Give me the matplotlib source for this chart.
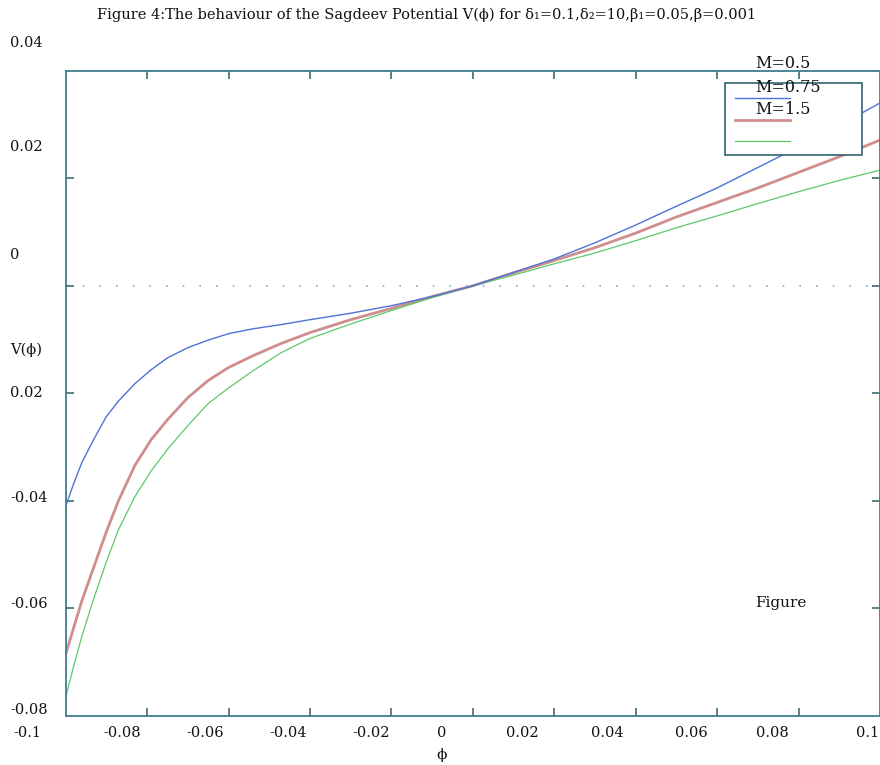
import matplotlib
matplotlib.use("Agg")
import matplotlib.pyplot as plt
from matplotlib.lines import Line2D
from matplotlib.patches import Rectangle

# ---------------- data ----------------
phi = [-0.100, -0.098, -0.096, -0.093, -0.090, -0.087, -0.083, -0.079, -0.075,
       -0.070, -0.065, -0.060, -0.054, -0.047, -0.040, -0.030, -0.020, -0.010,
       0.000, 0.010, 0.020, 0.030, 0.040, 0.050, 0.060, 0.070, 0.080, 0.090, 0.100]
V_M05 = [-0.0410, -0.0367, -0.0328, -0.0284, -0.0243, -0.0214, -0.0182, -0.0156,
         -0.0134, -0.0115, -0.0101, -0.0089, -0.0080, -0.0072, -0.0063, -0.0051,
         -0.0037, -0.0020, 0.0000, 0.0025, 0.0050, 0.0080, 0.0113, 0.0148, 0.0182,
         0.0220, 0.0258, 0.0298, 0.0340]
V_M075 = [-0.0685, -0.0635, -0.0585, -0.0521, -0.0457, -0.0399, -0.0334, -0.0286,
          -0.0249, -0.0208, -0.0176, -0.0152, -0.0130, -0.0107, -0.0087, -0.0063,
          -0.0042, -0.0020, 0.0000, 0.0024, 0.0047, 0.0071, 0.0098, 0.0128, 0.0155,
          0.0182, 0.0211, 0.0240, 0.0271]
V_M15 = [-0.0765, -0.0706, -0.0651, -0.0579, -0.0513, -0.0453, -0.0392, -0.0344,
         -0.0304, -0.0260, -0.0219, -0.0190, -0.0158, -0.0124, -0.0098, -0.0071,
         -0.0046, -0.0022, 0.0000, 0.0020, 0.0041, 0.0061, 0.0084, 0.0108, 0.0130,
         0.0153, 0.0175, 0.0196, 0.0215]
legend_labels = ["M=0.5", "M=0.75", "M=1.5"]
xtick_vals = [-0.08, -0.06, -0.04, -0.02, 0.0, 0.02, 0.04, 0.06, 0.08]
ytick_vals = [-0.06, -0.04, -0.02, 0.0, 0.02]
xtick_labels = ["-0.1", "-0.08", "-0.06", "-0.04", "-0.02", "0", "0.02", "0.04",
                "0.06", "0.08", "0.1"]
ytick_labels = ["0.04", "0.02", "0", "V(ϕ)", "0.02", "-0.04", "-0.06", "-0.08"]
title = "Figure 4:The behaviour of the Sagdeev Potential V(ϕ) for δ₁=0.1,δ₂=10,β₁=0.05,β=0.001"

# ---------------- style ----------------
W, H = 880, 765
FONT = ["DejaVu Serif", "Liberation Serif", "DejaVu Sans"]
plt.rcParams["font.family"] = FONT
frame_col = "#3f7e8c"
c_blue = "#4f72d6"
c_pink = "#cf8d8d"
c_green = "#5cc86a"
txt_col = "#111111"

fig = plt.figure(figsize=(W / 100, H / 100), dpi=100)

def fx(x):
    return x / W

def fy(y):
    return 1 - y / H

ax_l, ax_r, ax_t, ax_b = 65.7, 880.0, 70.7, 716.0
ax = fig.add_axes([fx(ax_l), fy(ax_b), (ax_r - ax_l) / W, (ax_b - ax_t) / H])
ax.set_xlim(-0.1, 0.1)
ax.set_ylim(-0.08, 0.04)

ax.plot(phi, V_M05, color=c_blue, lw=1.0, zorder=3, solid_joinstyle="round")
ax.plot(phi, V_M075, color=c_pink, lw=2.0, zorder=2, solid_joinstyle="round")
ax.plot(phi, V_M15, color=c_green, lw=0.9, zorder=2, solid_joinstyle="round")
ax.axhline(0.0, color="#6fb0dc", lw=1.2, ls=(0, (1, 9)), zorder=1)

for s in ax.spines.values():
    s.set_color(frame_col)
    s.set_linewidth(1.3)
ax.set_xticks(xtick_vals)
ax.set_yticks(ytick_vals)
ax.tick_params(direction="in", length=6, width=1.1, color="#2d5f68",
               top=True, right=True, labelbottom=False, labelleft=False)

# legend (drawn manually to mimic the reference's displaced labels)
leg_box = Rectangle((fx(725), fy(155)), (862 - 725) / W, (155 - 83) / H,
                    transform=fig.transFigure, facecolor="white",
                    edgecolor="#2f6570", lw=1.2, zorder=10)
fig.add_artist(leg_box)
for col, lw, yy in [(c_blue, 1.0, 98), (c_pink, 2.0, 120), (c_green, 0.9, 141)]:
    fig.add_artist(Line2D([fx(735), fx(790)], [fy(yy), fy(yy)], color=col, lw=lw,
                          transform=fig.transFigure, zorder=11))
for lab, yy in zip(legend_labels, [63, 87, 110]):
    fig.text(fx(755), fy(yy), lab, fontsize=11.5, ha="left", va="center",
             color=txt_col, zorder=12)

# title
fig.text(fx(427), fy(15), title, fontsize=10.5, ha="center", va="center",
         color=txt_col)

# y labels (placed as in the reference)
for lab, yy in zip(ytick_labels, [43, 147, 255, 350, 393, 498, 604, 710]):
    fig.text(fx(10), fy(yy), lab, fontsize=10.5, ha="left", va="center",
             color=txt_col)

# x labels
xlab_px = [27, 122, 205, 288, 371, 442, 522, 607, 691, 772]
for lab, xx in zip(xtick_labels[:-1], xlab_px):
    fig.text(fx(xx), fy(733), lab, fontsize=10.5, ha="center", va="center",
             color=txt_col)
fig.text(fx(879), fy(733), xtick_labels[-1], fontsize=10.5, ha="right",
         va="center", color=txt_col)
fig.text(fx(442), fy(755), "ϕ", fontsize=11, ha="center", va="center",
         color=txt_col)

fig.text(fx(755), fy(603), "Figure", fontsize=11, ha="left", va="center",
         color=txt_col)

fig.savefig("out.png", dpi=100)
